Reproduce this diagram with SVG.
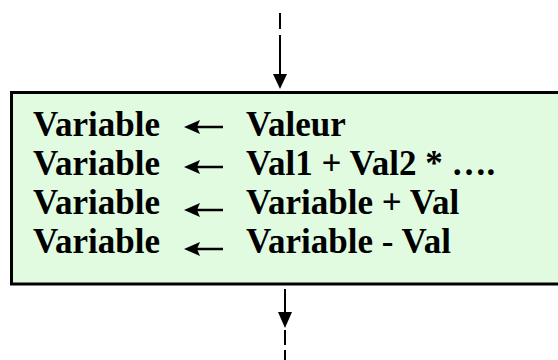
<svg xmlns="http://www.w3.org/2000/svg" width="558" height="360" viewBox="0 0 558 360">
<style>
.t{font-family:"Liberation Serif","Times New Roman",serif;font-weight:bold;font-size:35px;fill:#000}
.ln{stroke:#000;stroke-width:2;fill:none}
.al{stroke:#000;stroke-width:2.5;fill:none}
.ah{fill:#000}
</style>
<defs>
<path id="la" d="M0,0 L16,-7 L13,0 L16,7 Z"/>
</defs>
<g id="connectors">
<line class="ln" x1="280" y1="13" x2="280" y2="29"/>
<line class="ln" x1="280" y1="35" x2="280" y2="76"/>
<polygon class="ah" points="273,74 287,74 280,89"/>
<line class="ln" x1="285" y1="289" x2="285" y2="314"/>
<polygon class="ah" points="278,312 292,312 285,328"/>
<line class="ln" x1="285" y1="330" x2="285" y2="345"/>
<line class="ln" x1="285" y1="350" x2="285" y2="360"/>
</g>
<g id="box">
<rect x="11.5" y="92.5" width="560" height="191.5" fill="#E1FBE1" stroke="#000" stroke-width="3"/>
<g id="row1">
<text class="t" x="33" y="136">Variable</text>
<use href="#la" x="184" y="127"/><line class="al" x1="196" y1="127" x2="223" y2="127"/>
<text class="t" x="246" y="136">Valeur</text>
</g>
<g id="row2">
<text class="t" x="33" y="175">Variable</text>
<use href="#la" x="184" y="167"/><line class="al" x1="196" y1="167" x2="223" y2="167"/>
<text class="t" x="246" y="175">Val1 + Val2 * ….</text>
</g>
<g id="row3">
<text class="t" x="33" y="214">Variable</text>
<use href="#la" x="184" y="210"/><line class="al" x1="196" y1="210" x2="223" y2="210"/>
<text class="t" x="246" y="214">Variable + Val</text>
</g>
<g id="row4">
<text class="t" x="33" y="253">Variable</text>
<use href="#la" x="184" y="249"/><line class="al" x1="196" y1="249" x2="223" y2="249"/>
<text class="t" x="246" y="253">Variable - Val</text>
</g>
</g>
</svg>
